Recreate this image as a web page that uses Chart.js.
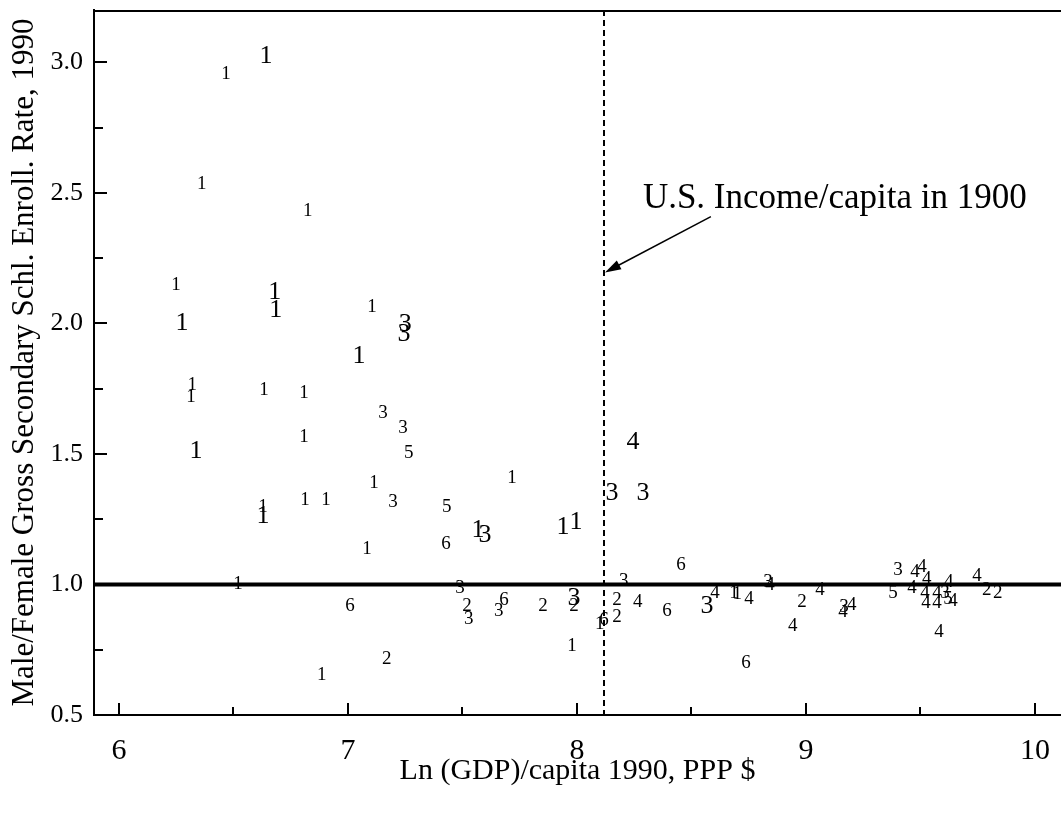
<!DOCTYPE html>
<html>
<head>
<meta charset="utf-8">
<script src="https://cdn.jsdelivr.net/npm/chart.js@4"></script>
<style>
  html, body { margin: 0; padding: 0; background: #fff; }
  #wrap { width: 1061px; height: 817px; }
</style>
</head>
<body>
<div id="wrap"><canvas id="chart"></canvas></div>
<script>
// larger-type countries (ln GDP per capita, M/F enrollment ratio, region code)
const bigGdp    = [6.642, 6.680, 6.685, 6.275, 7.250, 7.245, 7.048, 6.336, 6.629, 7.568, 7.598, 7.939, 7.996, 8.245, 8.153, 8.288, 7.987, 8.568];
const bigRatio  = [3.025, 2.118, 2.050, 1.999, 1.995, 1.957, 1.873, 1.509, 1.260, 1.207, 1.188, 1.218, 1.237, 1.544, 1.348, 1.348, 0.946, 0.915];
const bigRegion = ['1', '1', '1', '1', '3', '3', '1', '1', '1', '1', '3', '1', '1', '4', '3', '3', '3', '3'];

// smaller-type countries
const smallGdp = [6.467, 6.362, 6.825, 6.249, 7.105, 6.320, 6.315, 6.633, 6.808, 7.153,
                  7.240, 6.808, 7.266, 7.716, 7.114, 7.197, 6.812, 6.904, 6.629, 7.432,
                  7.428, 7.083, 8.454, 8.205, 6.520, 7.009, 7.489, 7.520, 7.528, 7.681,
                  7.659, 7.852, 7.987, 7.978, 8.100, 8.118, 8.175, 8.175, 8.266, 8.393,
                  7.170, 6.886, 8.603, 8.686, 8.700, 8.751, 8.834, 8.843, 8.738, 8.983,
                  8.943, 9.061, 9.166, 9.162, 9.200, 9.402, 9.476, 9.507, 9.528, 9.380,
                  9.463, 9.520, 9.572, 9.607, 9.624, 9.524, 9.572, 9.620, 9.642, 9.581,
                  9.747, 9.790, 9.838];
const smallRatio = [2.953, 2.535, 2.432, 2.145, 2.064, 1.762, 1.716, 1.746, 1.735, 1.658,
                    1.601, 1.563, 1.502, 1.406, 1.390, 1.314, 1.325, 1.325, 1.295, 1.295,
                    1.153, 1.134, 1.073, 1.015, 1.000, 0.916, 0.985, 0.916, 0.866, 0.939,
                    0.900, 0.916, 0.916, 0.766, 0.850, 0.862, 0.874, 0.939, 0.931, 0.900,
                    0.713, 0.652, 0.969, 0.969, 0.965, 0.943, 1.011, 0.996, 0.701, 0.931,
                    0.839, 0.977, 0.912, 0.893, 0.920, 1.057, 1.046, 1.065, 1.019, 0.966,
                    0.985, 0.969, 0.969, 0.969, 1.008, 0.927, 0.927, 0.943, 0.935, 0.816,
                    1.034, 0.977, 0.966];
const smallRegion = ['1', '1', '1', '1', '1', '1', '1', '1', '1', '3',
                     '3', '1', '5', '1', '1', '3', '1', '1', '1', '5',
                     '6', '1', '6', '3', '1', '6', '3', '2', '3', '6',
                     '3', '2', '2', '1', '1', '6', '2', '2', '4', '6',
                     '2', '1', '4', '1', '1', '4', '3', '4', '6', '2',
                     '4', '4', '3', '4', '4', '3', '4', '4', '4', '5',
                     '4', '4', '4', '3', '4', '4', '4', '5', '4', '4',
                     '4', '2', '2'];

const xTickValues = [6, 6.5, 7, 7.5, 8, 8.5, 9, 9.5, 10];
const yTickValues = [0.5, 0.75, 1.0, 1.25, 1.5, 1.75, 2.0, 2.25, 2.5, 2.75, 3.0];

const usIncome1900 = 8.12;   // vertical reference line
const parityLine = 1.0;      // horizontal reference line
const noteText = 'U.S. Income/capita in 1900';

const serif = "'Liberation Serif', 'Times New Roman', serif";

function toPoints(xs, ys) {
  return xs.map((x, i) => ({ x: x, y: ys[i] }));
}

// draws the region code in place of each point marker
const codeLabels = {
  id: 'codeLabels',
  afterDatasetsDraw(chart) {
    const ctx = chart.ctx;
    ctx.save();
    ctx.fillStyle = '#000';
    ctx.textAlign = 'center';
    ctx.textBaseline = 'middle';
    chart.data.datasets.forEach((ds, di) => {
      const meta = chart.getDatasetMeta(di);
      ctx.font = ds.labelSize + 'px ' + serif;
      meta.data.forEach((el, i) => {
        ctx.fillText(ds.codes[i], el.x, el.y);
      });
    });
    ctx.restore();
  }
};

// frame, inward ticks, reference lines and the note
const decorations = {
  id: 'decorations',
  beforeDatasetsDraw(chart) {
    const { ctx, chartArea: a, scales: { x, y } } = chart;
    ctx.save();
    ctx.strokeStyle = '#000';

    // top frame line
    ctx.lineWidth = 2;
    ctx.beginPath();
    ctx.moveTo(a.left, a.top + 1);
    ctx.lineTo(a.right, a.top + 1);
    ctx.stroke();

    // inward ticks
    y.ticks.forEach(t => {
      const py = Math.round(y.getPixelForValue(t.value));
      const len = (Math.abs(t.value * 2 - Math.round(t.value * 2)) < 1e-6) ? 13 : 9;
      ctx.beginPath();
      ctx.moveTo(a.left, py);
      ctx.lineTo(a.left + len, py);
      ctx.stroke();
    });
    x.ticks.forEach(t => {
      const px = Math.round(x.getPixelForValue(t.value));
      const len = Number.isInteger(t.value) ? 12 : 8;
      ctx.beginPath();
      ctx.moveTo(px, a.bottom);
      ctx.lineTo(px, a.bottom - len);
      ctx.stroke();
    });

    // parity line
    const py1 = y.getPixelForValue(parityLine);
    ctx.lineWidth = 4;
    ctx.beginPath();
    ctx.moveTo(a.left, py1);
    ctx.lineTo(a.right, py1);
    ctx.stroke();

    // dashed vertical line
    const pxUS = Math.round(x.getPixelForValue(usIncome1900));
    ctx.lineWidth = 2;
    ctx.setLineDash([6, 4]);
    ctx.beginPath();
    ctx.moveTo(pxUS, a.top);
    ctx.lineTo(pxUS, a.bottom);
    ctx.stroke();
    ctx.setLineDash([]);

    // note and arrow
    ctx.fillStyle = '#000';
    ctx.font = '35px ' + serif;
    ctx.textAlign = 'left';
    ctx.textBaseline = 'alphabetic';
    ctx.fillText(noteText, x.getPixelForValue(8.288), y.getPixelForValue(2.443));

    const x0 = x.getPixelForValue(8.585), y0 = y.getPixelForValue(2.409);
    const x1 = pxUS + 1, y1 = y.getPixelForValue(2.195);
    const ang = Math.atan2(y1 - y0, x1 - x0);
    ctx.lineWidth = 1.5;
    ctx.beginPath();
    ctx.moveTo(x0, y0);
    ctx.lineTo(x1 - 10 * Math.cos(ang), y1 - 10 * Math.sin(ang));
    ctx.stroke();
    ctx.beginPath();
    ctx.moveTo(x1, y1);
    ctx.lineTo(x1 - 16 * Math.cos(ang) + 5 * Math.sin(ang), y1 - 16 * Math.sin(ang) - 5 * Math.cos(ang));
    ctx.lineTo(x1 - 16 * Math.cos(ang) - 5 * Math.sin(ang), y1 - 16 * Math.sin(ang) + 5 * Math.cos(ang));
    ctx.closePath();
    ctx.fill();

    ctx.restore();
  }
};

new Chart(document.getElementById('chart'), {
  type: 'scatter',
  data: {
    datasets: [
      {
        label: 'small',
        data: toPoints(smallGdp, smallRatio),
        codes: smallRegion,
        labelSize: 19,
        pointRadius: 0,
        pointHoverRadius: 0
      },
      {
        label: 'large',
        data: toPoints(bigGdp, bigRatio),
        codes: bigRegion,
        labelSize: 26,
        pointRadius: 0,
        pointHoverRadius: 0
      }
    ]
  },
  options: {
    responsive: true,
    maintainAspectRatio: false,
    animation: false,
    layout: { padding: { top: 10, right: 0, bottom: 0, left: 0 } },
    plugins: {
      legend: { display: false },
      tooltip: { enabled: false }
    },
    scales: {
      x: {
        type: 'linear',
        min: 5.891,
        max: 10.114,
        afterBuildTicks: s => { s.ticks = xTickValues.map(v => ({ value: v })); },
        afterFit: s => { s.height = 102; s.paddingLeft = 0; s.paddingRight = 0; },
        grid: { display: false, drawTicks: false },
        border: { display: true, color: '#000', width: 2 },
        ticks: {
          color: '#000',
          font: { family: serif, size: 30 },
          padding: 18,
          maxRotation: 0,
          autoSkip: false,
          callback: v => Number.isInteger(v) ? String(v) : ''
        },
        title: {
          display: true,
          text: 'Ln (GDP)/capita 1990, PPP $',
          color: '#000',
          font: { family: serif, size: 30 },
          padding: { top: 0, bottom: 28 }
        }
      },
      y: {
        type: 'linear',
        min: 0.5,
        max: 3.2,
        afterBuildTicks: s => { s.ticks = yTickValues.map(v => ({ value: v })); },
        afterFit: s => { s.width = 94; s.paddingTop = 0; s.paddingBottom = 0; },
        grid: { display: false, drawTicks: false },
        border: { display: true, color: '#000', width: 2 },
        ticks: {
          color: '#000',
          font: { family: serif, size: 26 },
          padding: 11,
          autoSkip: false,
          callback: v => (Math.abs(v * 2 - Math.round(v * 2)) < 1e-6) ? v.toFixed(1) : ''
        },
        title: {
          display: true,
          text: 'Male/Female Gross Secondary Schl. Enroll. Rate, 1990',
          color: '#000',
          font: { family: serif, size: 31 },
          padding: { top: 6, bottom: 0 }
        }
      }
    }
  },
  plugins: [decorations, codeLabels]
});
</script>
</body>
</html>
